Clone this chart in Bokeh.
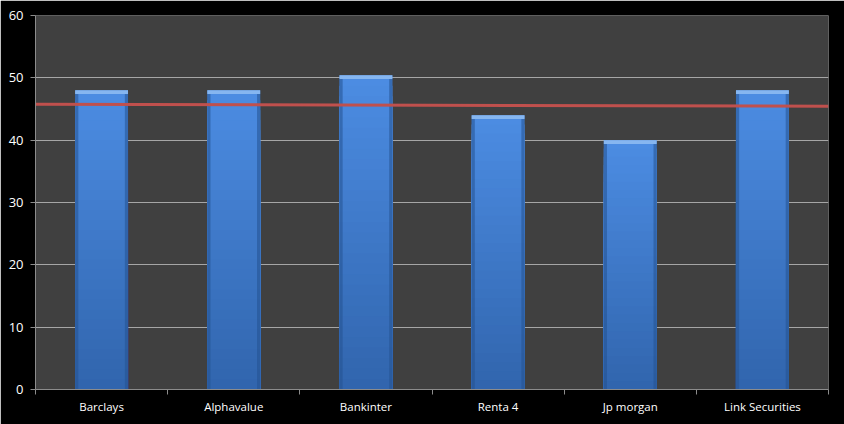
from bokeh.plotting import figure
from bokeh.models import FixedTicker, Range1d
from bokeh.embed import file_html
from bokeh.resources import INLINE

categories = ["Barclays", "Alphavalue", "Bankinter", "Renta 4", "Jp morgan", "Link Securities"]
values = [48.0, 48.0, 50.4, 44.0, 40.0, 48.0]
avg_line = [45.75, 45.45]   # red line values at left and right edge
y_ticks = [0, 10, 20, 30, 40, 50, 60]

n = len(categories)
centers = [i + 0.5 for i in range(n)]

p = figure(width=844, height=424, output_backend="svg", toolbar_location=None,
           x_range=Range1d(0, n), y_range=Range1d(0, 60),
           min_border_left=35, min_border_right=16, min_border_top=15, min_border_bottom=35)
p.background_fill_color = "#404040"
p.border_fill_color = "#000000"
p.outline_line_color = None

def mix(c1, c2, t):
    return "#%02x%02x%02x" % tuple(int(round(a + (b - a) * t)) for a, b in zip(c1, c2))

top_c = (76, 140, 226)
bot_c = (48, 100, 172)
bands = 30
bw = 0.4
for k in range(bands, 0, -1):
    t = k / bands
    p.vbar(x=centers, width=bw, bottom=0, top=[v * t for v in values],
           fill_color=mix(bot_c, top_c, t), line_color=None)
for off in (-1, 1):
    p.vbar(x=[c + off * (bw / 2 - 0.012) for c in centers], width=0.024, bottom=0,
           top=[v - 0.5 for v in values], fill_color="#24528f", fill_alpha=0.55, line_color=None)
p.quad(left=[c - bw / 2 for c in centers], right=[c + bw / 2 for c in centers],
       bottom=[v - 0.6 for v in values], top=values,
       fill_color="#86b6f0", line_color=None)

p.line(x=[0, n], y=avg_line, line_color="#c0504d", line_width=3)

font = "Open Sans"
xa = p.xaxis[0]
xa.ticker = FixedTicker(ticks=centers, minor_ticks=list(range(n + 1)))
xa.major_label_overrides = {c: lab for c, lab in zip(centers, categories)}
xa.major_tick_out = 0
xa.major_tick_in = 0
xa.minor_tick_out = 5
xa.minor_tick_in = 0
xa.minor_tick_line_color = "#8c8c8c"
xa.axis_line_color = "#8c8c8c"
xa.major_label_text_color = "#ffffff"
xa.major_label_text_font = font
xa.major_label_text_font_size = "11.5px"
xa.major_label_standoff = 4
xa.axis_label_standoff = 0

ya = p.yaxis[0]
ya.ticker = FixedTicker(ticks=y_ticks)
ya.major_tick_out = 5
ya.major_tick_in = 0
ya.minor_tick_line_color = None
ya.major_tick_line_color = "#8c8c8c"
ya.axis_line_color = "#8c8c8c"
ya.major_label_text_color = "#ffffff"
ya.major_label_text_font = font
ya.major_label_text_font_size = "13px"
ya.major_label_standoff = 7
ya.axis_label_standoff = 0

p.xgrid.grid_line_color = None
p.ygrid.ticker = FixedTicker(ticks=y_ticks)
p.ygrid.grid_line_color = "#a6a6a6"
p.ygrid.grid_line_width = 1

open("out.html", "w").write(file_html(p, INLINE))
